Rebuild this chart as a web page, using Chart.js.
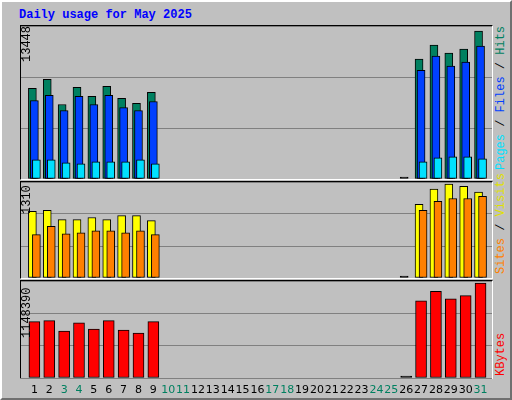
<!DOCTYPE html>
<html>
<head>
<meta charset="utf-8">
<script src="https://cdn.jsdelivr.net/npm/chart.js@4/dist/chart.umd.min.js"></script>
<style>
    body { margin: 0; background: #c0c0c0; }
    #frame { position: relative; width: 508px; height: 396px; background: #c0c0c0;
        border-top: 2px solid #fff; border-left: 2px solid #fff;
        border-right: 2px solid #707070; border-bottom: 2px solid #707070; overflow: hidden; }
    .panel { position: absolute; left: 18px; width: 471px;
        border-top: 1px solid #000; border-left: 1px solid #000;
        border-right: 1px solid #fff; border-bottom: 1px solid #fff; }
    canvas { position: absolute; left: 19px; }
    .t { position: absolute; font: bold 12px "Liberation Mono", monospace; white-space: nowrap; }
    .rot { position: absolute; font: 12px "Liberation Mono", monospace; white-space: nowrap;
        transform-origin: 0 0; transform: rotate(-90deg); }
</style>
</head>
<body>
<div id="frame">
    <div class="t" style="left:17px;top:6px;color:#0000ff">Daily usage for May 2025</div>
    <div class="panel" style="top:23px;height:153px"></div>
    <div class="panel" style="top:179px;height:96px"></div>
    <div class="panel" style="top:278px;height:97px"></div>
    <canvas id="c1" width="471" height="153" style="top:24px"></canvas>
    <canvas id="c2" width="471" height="96" style="top:180px"></canvas>
    <canvas id="c3" width="471" height="120" style="top:279px"></canvas>
    <div class="rot" style="left:18px;top:60px">13448</div>
    <div class="rot" style="left:18px;top:212px">1310</div>
    <div class="rot" style="left:18px;top:336px">1148390</div>
    <div class="rot" style="left:492px;top:168px"><span style="color:#00e0ff">Pages</span> / <span style="color:#0040ff">Files</span> / <span style="color:#008060">Hits</span></div>
    <div class="rot" style="left:492px;top:272px"><span style="color:#ff8000">Sites</span> / <span style="color:#e0e000">Visits</span></div>
    <div class="rot" style="left:492px;top:374px"><span style="color:#ff0000">KBytes</span></div>
</div>
<script>
const days = Array.from({ length: 31 }, (_, i) => i + 1);
const weekend = [3, 4, 10, 11, 17, 18, 24, 25, 31];
const N = null;
const hits = [8230, 9060, 6770, 8320, 7510, 8420, 7320, 6870, 7870, N, N, N, N, N, N, N, N, N, N, N, N, N, N, N, N, 0, 10890, 12170, 11440, 11810, 13448];
const files = [7130, 7600, 6220, 7510, 6770, 7600, 6490, 6220, 7040, N, N, N, N, N, N, N, N, N, N, N, N, N, N, N, N, N, 9880, 11170, 10250, 10620, 12080];
const pages = [1740, 1740, 1470, 1380, 1550, 1550, 1550, 1740, 1380, N, N, N, N, N, N, N, N, N, N, N, N, N, N, N, N, N, 1550, 1920, 2020, 2020, 1830];
const sites = [930, 945, 815, 815, 845, 815, 870, 870, 800, N, N, N, N, N, N, N, N, N, N, N, N, N, N, N, N, 0, 1030, 1240, 1310, 1280, 1200];
const visits = [605, 720, 615, 630, 660, 660, 630, 660, 605, N, N, N, N, N, N, N, N, N, N, N, N, N, N, N, N, N, 945, 1070, 1110, 1110, 1140];
const kbytes = [682000, 694000, 568000, 669000, 593000, 694000, 580000, 543000, 682000, N, N, N, N, N, N, N, N, N, N, N, N, N, N, N, N, 0, 934000, 1048000, 959000, 997000, 1148390];

const DAY_PX = 14.87;
const pts = (arr, shiftPx) => arr.map((v, i) => ({ x: days[i] + shiftPx / DAY_PX, y: v }));

function bar(label, arr, shift, color, width) {
    return {
        label, data: pts(arr, shift), grouped: false, barThickness: width,
        backgroundColor: ctx => (ctx.raw && ctx.raw.y === 0 ? "#000" : color),
        borderColor: "#000", borderWidth: 1, borderSkipped: false, minBarLength: 2
    };
}

function opts(max, extraBottom) {
    return {
        responsive: false, animation: false,
        layout: { padding: { bottom: extraBottom || 0 } },
        plugins: { legend: { display: false }, tooltip: { enabled: false } },
        scales: {
            x: { type: "linear", min: 0.1, max: 31.77, offset: false, display: false },
            y: { min: 0, max, display: true, border: { display: false },
                ticks: { display: false, stepSize: max / 3 },
                grid: { color: "#808080", lineWidth: 1, drawTicks: false } }
        }
    };
}

const dayLabels = {
    id: "dayLabels",
    afterDraw(chart) {
        const c = chart.ctx, sx = chart.scales.x;
        c.save();
        c.font = "11px 'DejaVu Sans'";
        c.textAlign = "center";
        c.textBaseline = "middle";
        days.forEach(d => {
            c.fillStyle = weekend.includes(d) ? "#008060" : "#000";
            c.fillText(String(d), sx.getPixelForValue(d), chart.chartArea.bottom + 12);
        });
        c.restore();
    }
};

new Chart(document.getElementById("c1"), {
    type: "bar",
    data: { datasets: [
        bar("Pages", pages, 2, "#00e0ff", 8),
        bar("Files", files, 0, "#0040ff", 8),
        bar("Hits", hits, -2, "#008060", 8)
    ].map((d, i) => ({ ...d, order: i })) },
    options: opts(13900)
});

new Chart(document.getElementById("c2"), {
    type: "bar",
    data: { datasets: [
        bar("Visits", visits, 2, "#ff8000", 8),
        bar("Sites", sites, -2, "#ffff00", 8)
    ].map((d, i) => ({ ...d, order: i })) },
    options: opts(1340)
});

new Chart(document.getElementById("c3"), {
    type: "bar",
    data: { datasets: [bar("KBytes", kbytes, 0, "#ff0000", 11)] },
    options: opts(1174000, 23),
    plugins: [dayLabels]
});
</script>
</body>
</html>
